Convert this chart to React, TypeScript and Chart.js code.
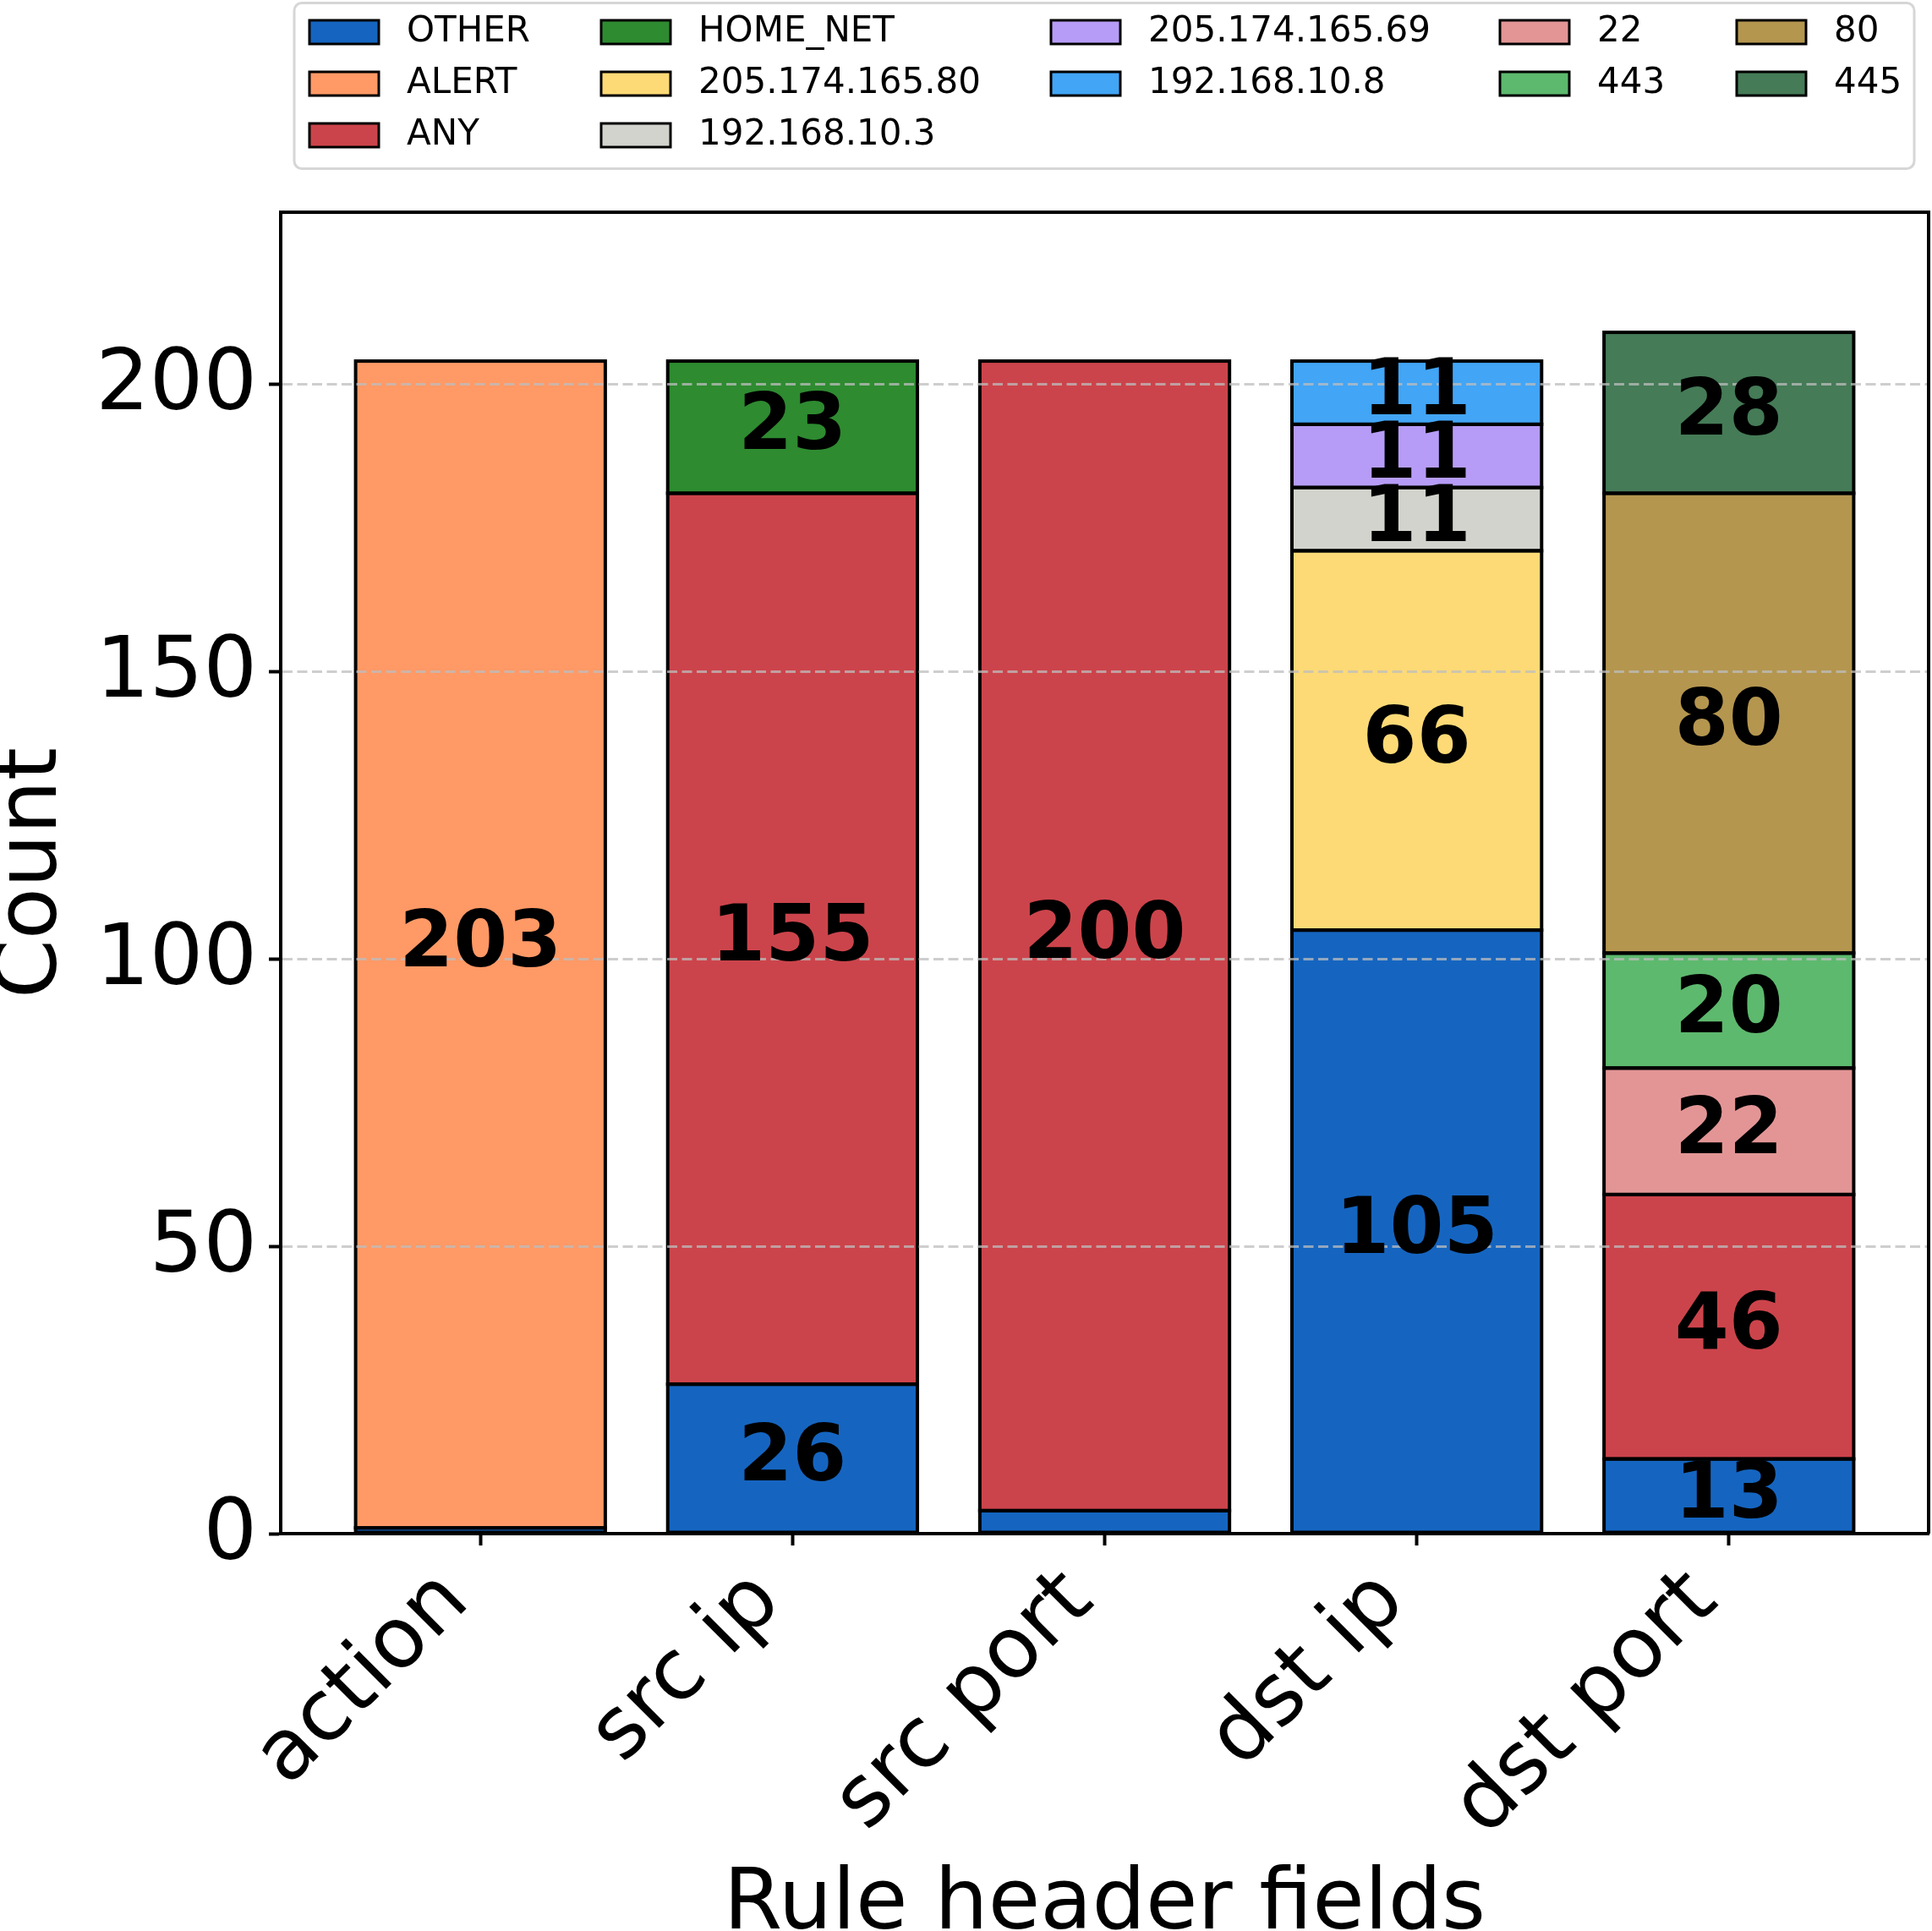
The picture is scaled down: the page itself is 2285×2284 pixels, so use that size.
import React, { useEffect, useRef } from "react";
import { Chart, registerables } from "chart.js";

Chart.register(...registerables);

// ---------- data ----------
const categories = ["action", "src ip", "src port", "dst ip", "dst port"];

const seriesNames = [
  "OTHER",
  "ALERT",
  "ANY",
  "HOME_NET",
  "205.174.165.80",
  "192.168.10.3",
  "205.174.165.69",
  "192.168.10.8",
  "22",
  "443",
  "80",
  "445",
];

const seriesColors = [
  "#1565C0",
  "#FF9966",
  "#CC444B",
  "#2E8B30",
  "#FDDA76",
  "#D3D3CD",
  "#B69CF6",
  "#42A5F5",
  "#E39595",
  "#5DB96E",
  "#B4964F",
  "#457B57",
];

const otherValues = [1, 26, 4, 105, 13];
const alertValues = [203, null, null, null, null];
const anyValues = [null, 155, 200, null, 46];
const homeNetValues = [null, 23, null, null, null];
const ip205_174_165_80 = [null, null, null, 66, null];
const ip192_168_10_3 = [null, null, null, 11, null];
const ip205_174_165_69 = [null, null, null, 11, null];
const ip192_168_10_8 = [null, null, null, 11, null];
const port22 = [null, null, null, null, 22];
const port443 = [null, null, null, null, 20];
const port80 = [null, null, null, null, 80];
const port445 = [null, null, null, null, 28];

const seriesValues: (number | null)[][] = [
  otherValues,
  alertValues,
  anyValues,
  homeNetValues,
  ip205_174_165_80,
  ip192_168_10_3,
  ip205_174_165_69,
  ip192_168_10_8,
  port22,
  port443,
  port80,
  port445,
];

const yTickValues = [0, 50, 100, 150, 200];
const yMax = 229.9;
const xMin = -0.64;
const xMax = 4.64;
const minLabelValue = 5;

const xTitle = "Rule header fields";
const yTitle = "Count";

// ---------- style ----------
const FONT = "'DejaVu Sans', sans-serif";
const W = 2285;
const H = 2284;
const GRID_COLOR = "rgba(190,190,190,0.75)";

// legend layout (column-major, like matplotlib ncol=5)
const legendColumnCounts = [3, 3, 2, 2, 2];
const legendColumnX = [364, 709, 1241, 1772, 2052];
const legendRowY = [38, 99, 160];

export default function App() {
  const ref = useRef<HTMLCanvasElement>(null);

  useEffect(() => {
    const canvas = ref.current!;
    Chart.defaults.color = "#000";
    Chart.defaults.font.family = FONT;

    const datasets = seriesNames.map((name, s) => ({
      label: name,
      data: seriesValues[s]
        .map((v, i) => (v == null ? null : { x: i, y: v }))
        .filter((p) => p !== null) as { x: number; y: number }[],
      backgroundColor: seriesColors[s],
      borderWidth: 0,
      categoryPercentage: 1,
      barPercentage: 0.8,
      stack: "all",
    }));

    const barEdges = {
      id: "barEdges",
      afterDatasetsDraw(chart: any) {
        const ctx = chart.ctx;
        ctx.save();
        ctx.strokeStyle = "#000";
        ctx.lineWidth = 4;
        chart.data.datasets.forEach((_ds: any, i: number) => {
          const meta = chart.getDatasetMeta(i);
          meta.data.forEach((el: any) => {
            const { x, y, base, width } = el.getProps(["x", "y", "base", "width"], true);
            ctx.strokeRect(x - width / 2, Math.min(y, base), width, Math.abs(base - y));
          });
        });
        ctx.restore();
      },
    };

    const extras = {
      id: "extras",
      afterDraw(chart: any) {
        const ctx = chart.ctx;
        const ca = chart.chartArea;
        // top + right spines
        ctx.save();
        ctx.strokeStyle = "#000";
        ctx.lineWidth = 4;
        ctx.beginPath();
        ctx.moveTo(ca.left, ca.top);
        ctx.lineTo(ca.right, ca.top);
        ctx.lineTo(ca.right, ca.bottom);
        ctx.stroke();
        ctx.restore();

        // value labels
        ctx.save();
        ctx.font = `bold 92px ${FONT}`;
        ctx.textAlign = "center";
        ctx.textBaseline = "middle";
        ctx.fillStyle = "#000";
        chart.data.datasets.forEach((ds: any, i: number) => {
          const meta = chart.getDatasetMeta(i);
          meta.data.forEach((el: any, j: number) => {
            const v = ds.data[j].y;
            if (v < minLabelValue) return;
            const { x, y, base } = el.getProps(["x", "y", "base"], true);
            ctx.fillText(String(v), x, (y + base) / 2 + 2);
          });
        });
        ctx.restore();

        // legend
        ctx.save();
        ctx.fillStyle = "#fff";
        ctx.strokeStyle = "#d6d6d6";
        ctx.lineWidth = 3;
        ctx.beginPath();
        (ctx as any).roundRect(348, 3.5, 1916, 196, 9);
        ctx.fill();
        ctx.stroke();
        ctx.font = `42px ${FONT}`;
        ctx.textBaseline = "middle";
        ctx.textAlign = "left";
        let k = 0;
        legendColumnCounts.forEach((count, c) => {
          for (let r = 0; r < count; r++) {
            const hx = legendColumnX[c];
            const cy = legendRowY[r];
            ctx.fillStyle = seriesColors[k];
            ctx.fillRect(hx + 2, cy - 14, 82, 28);
            ctx.strokeStyle = "#000";
            ctx.lineWidth = 3;
            ctx.strokeRect(hx + 2, cy - 14, 82, 28);
            ctx.fillStyle = "#000";
            ctx.fillText(seriesNames[k], hx + 117, cy);
            k++;
          }
        });
        ctx.restore();
      },
    };

    const chart = new Chart(canvas, {
      type: "bar",
      data: { datasets: datasets as any },
      options: {
        animation: false,
        responsive: false,
        maintainAspectRatio: false,
        devicePixelRatio: 1,
        layout: { padding: { top: 251, right: 4, bottom: 0, left: 0 } },
        plugins: {
          legend: { display: false },
          tooltip: { enabled: false },
        },
        scales: {
          x: {
            type: "linear",
            stacked: true,
            min: xMin,
            max: xMax,
            offset: false,
            afterBuildTicks: (s: any) => {
              s.ticks = categories.map((_, i) => ({ value: i }));
            },
            afterFit: (s: any) => {
              s.height = 470;
            },
            grid: {
              offset: false,
              drawOnChartArea: false,
              drawTicks: true,
              tickLength: 14,
              tickWidth: 4,
              tickColor: "#000",
              color: "#000",
            },
            border: { display: true, color: "#000", width: 4, z: 1 },
            ticks: {
              autoSkip: false,
              minRotation: 45,
              maxRotation: 45,
              padding: 8,
              labelOffset: -29,
              font: { size: 100, family: FONT },
              color: "#000",
              callback: (v: any) => categories[v as number] ?? "",
            },
            title: {
              display: true,
              text: xTitle,
              color: "#000",
              font: { size: 100, family: FONT, lineHeight: 0.58 },
              padding: 0,
            },
          } as any,
          y: {
            type: "linear",
            stacked: true,
            min: 0,
            max: yMax,
            afterBuildTicks: (s: any) => {
              s.ticks = yTickValues.map((v) => ({ value: v }));
            },
            afterFit: (s: any) => {
              s.width = 332;
            },
            grid: {
              z: 1,
              color: (c: any) => (c.tick && c.tick.value === 0 ? "rgba(0,0,0,0)" : GRID_COLOR),
              lineWidth: 3,
              drawTicks: true,
              tickLength: 14,
              tickWidth: 4,
              tickColor: "#000",
              tickBorderDash: [],
            },
            border: { display: true, color: "#000", width: 4, dash: [12, 5.5], z: 1 },
            ticks: {
              padding: 14,
              labelOffset: 4,
              font: { size: 100, family: FONT },
              color: "#000",
            },
            title: {
              display: true,
              text: yTitle,
              color: "#000",
              font: { size: 100, family: FONT, lineHeight: 0.8 },
              padding: 0,
            },
          } as any,
        },
      },
      plugins: [barEdges, extras],
    });

    return () => chart.destroy();
  }, []);

  return (
    <div style={{ position: "fixed", left: 0, top: 0, width: W, height: H, background: "#fff" }}>
      <canvas ref={ref} width={W} height={H} style={{ display: "block", width: W, height: H }} />
    </div>
  );
}
